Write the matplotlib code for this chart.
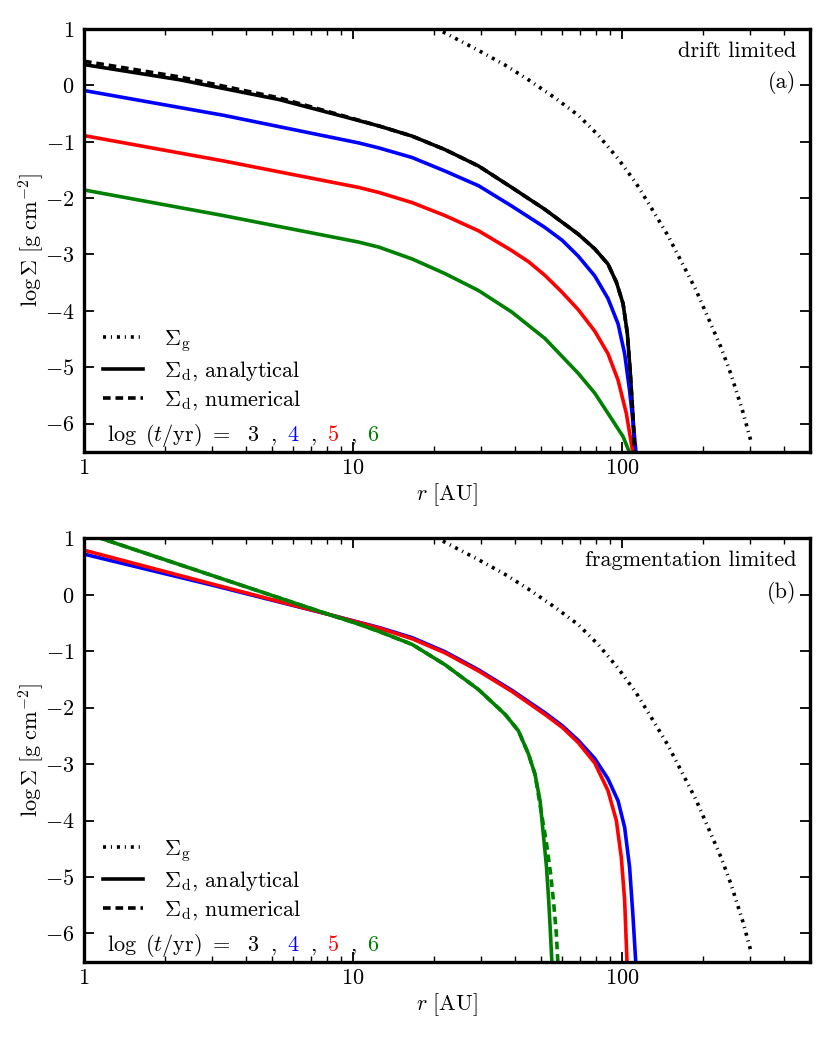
import matplotlib
matplotlib.use('Agg')
import matplotlib.pyplot as plt
from matplotlib.ticker import FuncFormatter, LogLocator, MultipleLocator

plt.rcParams['font.family'] = 'serif'
plt.rcParams['font.serif'] = ['cmr10']
plt.rcParams['mathtext.fontset'] = 'cm'
plt.rcParams['axes.formatter.use_mathtext'] = True
plt.rcParams['lines.scale_dashes'] = False

# gas surface density (same in both panels)
r_gas = [19.5, 21, 29.3, 36.8, 44.9, 56.3, 68.8, 81.5, 96.7, 113, 128, 148, 166, 188,
         208, 233, 254, 281, 301]
sig_gas = [1.08, 0.98, 0.62, 0.36, 0.10, -0.22, -0.53, -0.88, -1.30, -1.74, -2.16, -2.66,
           -3.12, -3.62, -4.10, -4.64, -5.12, -5.78, -6.30]

# panel (a): drift limited, analytical
r_a3 = [1, 2.27, 5.3, 9.7, 12.5, 16.6, 22, 29.3, 38.9, 51.7, 68.8, 79.2, 88.7, 95.3,
        100.9, 104.7, 107.4, 109.9, 111.6]
sig_a3 = [0.37, 0.10, -0.25, -0.58, -0.72, -0.90, -1.14, -1.43, -1.81, -2.20, -2.64, -2.90,
          -3.17, -3.49, -3.87, -4.40, -5.11, -5.88, -6.6]
r_a4 = [1, 3.3, 10.5, 12.5, 16.6, 22, 29.3, 38.9, 51.7, 60.0, 68.8, 79.2, 88.7, 96.7, 102.3,
        106.7, 110.7, 113.2]
sig_a4 = [-0.09, -0.53, -1.02, -1.11, -1.28, -1.52, -1.78, -2.14, -2.52, -2.75, -3.03, -3.38,
          -3.78, -4.23, -4.76, -5.41, -6.11, -6.6]
r_a5 = [1, 3.3, 10.5, 12.5, 16.6, 22, 29.3, 38.9, 45.0, 51.7, 59.6, 68.8, 79.2, 88.7, 96.7,
        103.8, 110.5]
sig_a5 = [-0.89, -1.34, -1.81, -1.90, -2.08, -2.31, -2.58, -2.93, -3.13, -3.37, -3.66, -3.98,
          -4.36, -4.76, -5.23, -5.82, -6.6]
r_a6 = [1, 3.3, 10.5, 12.5, 16.6, 22, 29.3, 38.9, 51.7, 68.8, 79.2, 91.3, 100.9, 108.5]
sig_a6 = [-1.855, -2.31, -2.78, -2.87, -3.08, -3.34, -3.64, -4.02, -4.49, -5.11, -5.46, -5.91,
          -6.23, -6.6]
# panel (a): numerical (only t=1e3 differs visibly)
r_a3_num = [1, 2.27, 5.3, 9.7, 12.5, 16.6, 22, 29.3, 38.9, 51.7, 68.8, 79.2, 88.7, 95.3,
            100.9, 104.7, 107.4, 109.9, 111.6]
sig_a3_num = [0.43, 0.15, -0.22, -0.57, -0.72, -0.90, -1.14, -1.43, -1.81, -2.20, -2.64, -2.90,
              -3.17, -3.49, -3.87, -4.40, -5.11, -5.88, -6.6]

# panel (b): fragmentation limited, analytical
r_b4 = [1, 3, 8.15, 12.5, 16.6, 22, 29.3, 38.9, 51.7, 60.0, 68.8, 79.2, 88.7, 96.7, 102.3,
        106.7, 109.9, 112.8]
sig_b4 = [0.72, 0.17, -0.35, -0.58, -0.76, -1.01, -1.33, -1.69, -2.09, -2.32, -2.58, -2.90,
          -3.26, -3.65, -4.12, -4.82, -5.70, -6.6]
r_b5 = [1, 3, 8.15, 12.5, 16.6, 22, 29.3, 38.9, 51.7, 60.0, 68.8, 79.2, 88.7, 95.3, 99.4,
        102.3, 104.6]
sig_b5 = [0.79, 0.19, -0.35, -0.59, -0.78, -1.03, -1.35, -1.71, -2.12, -2.35, -2.62, -2.98,
          -3.47, -4.0, -4.65, -5.41, -6.6]
r_b6 = [1, 3, 8.15, 10.5, 12.5, 16.6, 22, 29.3, 36.8, 41.2, 44.9, 47.5, 49.6, 51.0, 52.4,
        53.4, 54.2, 55.0]
sig_b6 = [1.10, 0.34, -0.35, -0.52, -0.65, -0.88, -1.24, -1.68, -2.12, -2.41, -2.82, -3.18,
          -3.65, -4.24, -4.82, -5.41, -5.99, -6.6]
# panel (b): numerical (only t=1e6 differs visibly)
r_b6_num = [1, 3, 8.15, 10.5, 12.5, 16.6, 22, 29.3, 36.8, 41.2, 44.9, 47.5, 50.3, 52.4,
            54.3, 55.7, 57.0, 57.9]
sig_b6_num = [1.10, 0.34, -0.35, -0.52, -0.65, -0.88, -1.24, -1.68, -2.12, -2.41, -2.82, -3.18,
              -3.90, -4.40, -4.95, -5.45, -6.0, -6.6]

times = ['3', '4', '5', '6']
colors = ['k', 'b', 'r', 'g']

FS = 16
LW = 2.6
gas_dash = (2.2, 3.5, 0.8, 3.5)
num_dash = (5.5, 3.5)


def draw_panel(ax, curves, numerical, title, tag):
    ax.plot(r_gas, sig_gas, color='k', lw=LW, dashes=gas_dash)
    for (r, s), c in zip(curves, colors):
        if r is not None:
            ax.plot(r, s, color=c, lw=LW)
    for r, s, c in numerical:
        ax.plot(r, s, color=c, lw=LW, dashes=num_dash)

    ax.set_xscale('log')
    ax.set_xlim(1, 500)
    ax.set_ylim(-6.5, 1)
    ax.yaxis.set_major_locator(MultipleLocator(1))
    ax.yaxis.set_major_formatter(FuncFormatter(lambda v, p: '$%d$' % round(v)))
    ax.xaxis.set_major_locator(LogLocator(base=10))
    ax.xaxis.set_major_formatter(FuncFormatter(lambda v, p: '$%g$' % v))
    ax.tick_params(which='both', direction='in', top=True, right=True, labelsize=FS)
    ax.tick_params(which='major', length=7, width=1.3)
    ax.tick_params(which='minor', length=4, width=1.0)
    ax.tick_params(axis='x', which='major', pad=5)
    ax.tick_params(axis='y', which='major', pad=7)
    for sp in ax.spines.values():
        sp.set_linewidth(2.4)

    ax.set_xlabel(r'$r\ [\mathrm{AU}]$', fontsize=FS, labelpad=2)
    ax.set_ylabel(r'$\log\Sigma\ [\mathrm{g\ cm^{-2}}]$', fontsize=FS, labelpad=-1)

    ax.text(0.981, 0.934, title, transform=ax.transAxes, ha='right', va='baseline', fontsize=FS)
    ax.text(0.981, 0.860, tag, transform=ax.transAxes, ha='right', va='baseline', fontsize=FS)

    # legend for line styles
    h_g, = ax.plot([], [], color='k', lw=LW, dashes=gas_dash)
    h_a, = ax.plot([], [], color='k', lw=LW)
    h_n, = ax.plot([], [], color='k', lw=LW, dashes=num_dash)
    ax.legend([h_g, h_a, h_n],
              [r'$\Sigma_\mathrm{g}$', r'$\Sigma_\mathrm{d}$, analytical',
               r'$\Sigma_\mathrm{d}$, numerical'],
              loc='center left', bbox_to_anchor=(0.026, 0.193), frameon=False,
              fontsize=FS, handlelength=1.8, handletextpad=0.95, labelspacing=0.25,
              borderpad=0, borderaxespad=0)

    # colour key for times
    ax.text(0.032, 0.026, r'$\log\ (t/\mathrm{yr})\ =$', transform=ax.transAxes,
            ha='left', va='baseline', fontsize=FS)
    xs = [0.233, 0.288, 0.344, 0.398]
    for i, (t, c) in enumerate(zip(times, colors)):
        ax.text(xs[i], 0.026, t, color=c, transform=ax.transAxes, ha='center',
                va='baseline', fontsize=FS)
        if i < len(times) - 1:
            ax.text((xs[i] + xs[i + 1]) / 2, 0.026, ',', transform=ax.transAxes,
                    ha='center', va='baseline', fontsize=FS)


fig = plt.figure(figsize=(8.3, 10.38), dpi=100)
ax1 = fig.add_axes([0.1012, 0.5648, 0.8747, 0.4072])
ax2 = fig.add_axes([0.1012, 0.0735, 0.8747, 0.4079])

draw_panel(ax1,
           [(r_a3, sig_a3), (r_a4, sig_a4), (r_a5, sig_a5), (r_a6, sig_a6)],
           [(r_a3_num, sig_a3_num, 'k')],
           'drift limited', '(a)')
draw_panel(ax2,
           [(None, None), (r_b4, sig_b4), (r_b5, sig_b5), (r_b6, sig_b6)],
           [(r_b6_num, sig_b6_num, 'g')],
           'fragmentation limited', '(b)')

fig.savefig('out.png', dpi=100)
